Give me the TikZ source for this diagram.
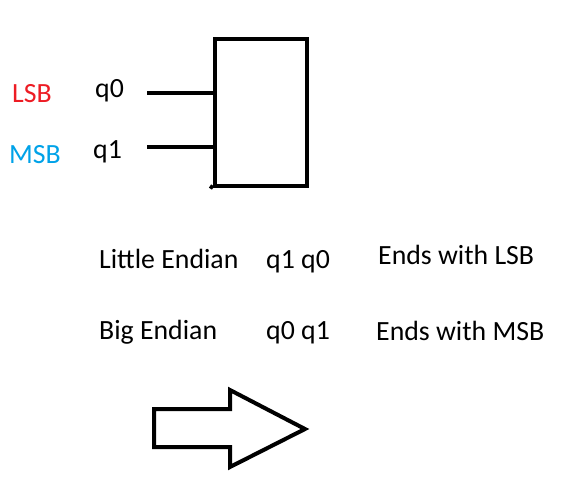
\documentclass[tikz,border=0pt]{standalone}
\usepackage{fontspec}
\setmainfont{Carlito}
\definecolor{lsbred}{HTML}{ED1C24}
\definecolor{msbblue}{HTML}{00A2E8}
\begin{document}
\begin{tikzpicture}[x=1pt,y=-1pt,
  lbl/.style={anchor=base west,inner sep=0pt,font=\fontsize{27.8}{32}\selectfont},
  thickline/.style={line width=4pt}]
\useasboundingbox (0,0) rectangle (581,499);
% block
\node[draw,thickline,minimum width=92pt,minimum height=147pt,inner sep=0pt] (box) at (261,112.5) {};
\coordinate (stub) at (210,186);
\draw[thickline] (stub) -- (box.south west);
% inputs
\coordinate (in0) at (147,93);
\coordinate (in1) at (147,147);
\draw[thickline] (in0) -- (in0 -| box.west);
\draw[thickline] (in1) -- (in1 -| box.west);
% labels
\node[lbl,text=lsbred] (lsb) at (12,102) {LSB};
\node[lbl,text=msbblue] (msb) at (9,163) {MSB};
\node[lbl] (q0) at (95,97) {q0};
\node[lbl] (q1) at (93,158) {q1};
% table
\node[lbl] (le) at (99,268) {Little Endian};
\node[lbl] (leq) at (266,268) {q1 q0};
\node[lbl] (lee) at (378,264) {Ends with LSB};
\node[lbl] (be) at (99,339) {Big Endian};
\node[lbl] (beq) at (266,339) {q0 q1};
\node[lbl] (bee) at (376,340) {Ends with MSB};
% arrow
\draw[thickline,line join=miter] (154,409) -- (230,409) -- (230,390) -- (305,429) -- (230,467) -- (230,447) -- (154,447) -- cycle;
\end{tikzpicture}
\end{document}
